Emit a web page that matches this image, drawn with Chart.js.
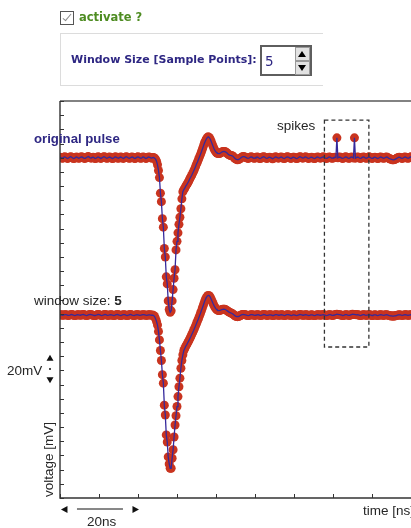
<!DOCTYPE html>
<html>
<head>
<meta charset="utf-8">
<script src="https://cdn.jsdelivr.net/npm/chart.js@4.4.1/dist/chart.umd.min.js"></script>
<style>
  html, body { margin: 0; padding: 0; background: #fff; width: 411px; height: 528px; overflow: hidden; }
  #wrap { position: relative; width: 411px; height: 528px; overflow: hidden; }
  #plot { position: absolute; left: 0; top: 0; }
  .lbl { position: absolute; white-space: nowrap; font-family: "Liberation Sans", Arial, Helvetica, sans-serif;
         font-size: 13.5px; line-height: 13.5px; color: #262626; }
  .navy { color: #2e2783; font-weight: bold; font-size: 13.2px; line-height: 13.2px; }
  .ui { position: absolute; white-space: nowrap; font-family: "DejaVu Sans", Verdana, sans-serif;
        font-weight: bold; font-size: 11px; line-height: 11px; }
  .chk { position: absolute; left: 60px; top: 11px; width: 12px; height: 12px; border: 1px solid #555; background: #fff; }
  .chk .mark { position: absolute; left: 4px; top: 0px; width: 3px; height: 8px;
               border-right: 1.6px solid #8a8a8a; border-bottom: 1.6px solid #8a8a8a; transform: rotate(40deg); }
  .panel { position: absolute; left: 60px; top: 33px; width: 262px; height: 51px;
           border-top: 1px solid #dcdcdc; border-left: 1px solid #dcdcdc; border-bottom: 1px solid #dcdcdc; }
  .spin { position: absolute; left: 260px; top: 45px; width: 52px; height: 31px; box-sizing: border-box;
          border: 2px solid #5e5e5e; background: #fff; }
  .spin .val { position: absolute; left: 3px; top: 8px; font-family: "DejaVu Sans", Verdana, sans-serif;
               font-size: 13.5px; line-height: 13.5px; color: #2e2783; }
  .spin .btn { position: absolute; left: 33px; width: 13px; height: 12px; background: #e2e2e2; border: 1px solid #9a9a9a; }
  .spin .up { top: 0px; }
  .spin .dn { top: 14px; }
  .spin .btn::after { content: ""; position: absolute; left: 2px; width: 0; height: 0;
                      border-left: 4.5px solid transparent; border-right: 4.5px solid transparent; }
  .spin .up::after { top: 3px; border-bottom: 6px solid #000; }
  .spin .dn::after { top: 3px; border-top: 6px solid #000; }
  .rot { transform-origin: 0 0; transform: rotate(-90deg); }
</style>
</head>
<body>
<div id="wrap">
  <canvas id="plot" width="425" height="528"></canvas>

  <div class="chk"><div class="mark"></div></div>
  <div class="ui" style="left:79px; top:12.3px; font-size:11.5px; line-height:11.5px; color:#4e8c22;">activate ?</div>
  <div class="panel"></div>
  <div class="ui" style="left:71px; top:54.2px; color:#2e2783;">Window Size [Sample Points]:</div>
  <div class="spin"><span class="val">5</span><div class="btn up"></div><div class="btn dn"></div></div>

  <div class="lbl navy" style="left:34px; top:131.8px;">original pulse</div>
  <div class="lbl" style="left:277px; top:119px;">spikes</div>
  <div class="lbl" style="left:34px; top:293.6px;">window size: <b>5</b></div>
  <div class="lbl" style="left:7px; top:363.6px;">20mV</div>
  <div class="lbl rot" style="left:41.9px; top:497px;">voltage [mV]</div>
  <div class="lbl" style="left:87px; top:515.3px;">20ns</div>
  <div class="lbl" style="left:363px; top:503.6px;">time [ns]</div>
</div>

<script>
// Sampling interval of the digitizer (ns); sample i is taken at i * SAMPLE_NS.
const SAMPLE_NS = 0.25;

// Raw detector pulse in mV (baseline = 0), including two single-sample spikes.
const originalPulse = [
  // 0 - 24.25 ns: baseline
  0.3,0.1,-0.4,-0.2,0.4,0.6,0.2,-0.3,-0.5,0.0,
  0.4,0.7,0.3,-0.2,-0.6,-0.3,0.2,0.5,0.1,-0.4,
  -0.2,0.3,0.6,0.4,-0.1,-0.5,-0.4,0.1,0.5,0.8,
  0.4,-0.1,-0.3,0.2,0.4,0.0,-0.6,-0.4,0.2,0.6,
  0.3,-0.2,-0.5,-0.1,0.3,0.7,0.5,0.0,-0.4,-0.2,
  0.3,0.5,0.1,-0.3,-0.6,-0.2,0.4,0.6,0.2,-0.2,
  -0.4,0.1,0.5,0.3,-0.2,-0.5,-0.1,0.4,0.7,0.3,
  -0.1,-0.4,-0.2,0.3,0.5,0.2,-0.3,-0.6,-0.1,0.4,
  0.6,0.2,-0.2,-0.4,0.0,0.5,0.4,-0.1,-0.5,-0.3,
  0.2,0.5,0.3,-0.1,-0.3,0.1,0.2,-0.3,
  // 24.5 - 47.5 ns: pulse, overshoot and ringing
  -1,-2.5,-5,-9,-14,-25,-31,-43,-49,-64,
  -70,-84,-89,-101,-107,-109,-108,-101,-93,-85,
  -79,-65,-59,-53,-47,-42,-36,-29,-24,-22.5,
  -21.5,-20,-19,-17.8,-16.6,-15,-13.8,-12.5,-11,-9.6,
  -8,-6.3,-4.5,-3,-1.2,0.5,2.2,4,6,8,
  10,11.6,13,14.2,14.7,14.3,13.2,11.6,9.8,8,
  6.3,5,4,3.3,3,2.9,3.1,3.5,4,4.3,
  4.4,4.3,4,3.5,2.8,2.2,1.8,1.6,1.5,1.2,
  0.6,-0.2,-0.8,-1.2,-1.4,-1.3,-0.9,-0.4,0.2,0.6,
  0.8,0.7,0.4,
  // 47.75 - 92 ns: baseline with the two spikes
  0.1,-0.3,-0.5,-0.2,0.3,0.6,0.4,-0.1,-0.4,-0.2,
  0.2,0.5,0.3,-0.2,-0.6,-0.4,0.1,0.5,0.7,0.3,
  -0.2,-0.5,-0.3,0.2,0.4,0.1,-0.3,-0.7,-0.4,0.2,
  0.6,0.4,0.0,-0.3,-0.1,0.3,0.5,0.2,-0.4,-0.6,
  -0.2,0.3,0.6,0.5,0.1,-0.3,-0.5,-0.1,0.4,0.3,
  -0.1,-0.4,-0.6,-0.2,0.3,0.7,0.5,0.0,-0.3,-0.1,
  0.4,0.6,0.2,-0.3,-0.5,-0.2,0.2,0.4,0.1,-0.4,
  -0.6,-0.3,0.2,0.5,0.3,-0.1,-0.3,0.0,0.4,0.6,
  0.3,-0.2,-0.5,-0.4,0.1,0.5,0.4,0.0,-0.4,-0.2,
  0.2,0.4,0.1,14.0,-0.1,0.3,0.5,0.1,-0.3,-0.5,
  -0.2,0.3,0.6,0.4,-0.1,-0.4,-0.3,0.2,0.5,0.2,
  -0.2,14.0,-0.3,0.1,0.5,0.3,-0.2,-0.5,-0.3,0.2,
  0.5,0.4,-0.1,-0.4,-0.2,0.3,0.6,0.3,-0.2,-0.5,
  -0.3,0.2,0.4,0.1,-0.3,-0.6,-0.2,0.3,0.5,0.2,
  -0.2,-0.4,-0.1,0.3,0.5,0.2,-0.3,-0.7,-0.9,-1.2,
  -1.4,-1.5,-1.3,-1.0,-0.6,-0.2,0.2,0.4,0.1,-0.3,
  -0.5,-0.2,0.3,0.5,0.2,-0.2,-0.4,-0.1,0.4,0.6,
  0.3,-0.1,-0.4,-0.2,0.2,0.5,0.3,-0.1
];

// Same pulse after the window filter (window size 5), in mV (baseline = 0).
const filteredPulse = [
  // 0 - 23.75 ns: baseline
  0.2,0.2,0.0,-0.1,0.1,0.3,0.3,0.1,-0.2,-0.2,
  0.0,0.3,0.4,0.2,-0.1,-0.3,-0.2,0.1,0.3,0.2,
  0.0,-0.1,0.1,0.3,0.4,0.2,-0.1,-0.3,-0.2,0.1,
  0.3,0.4,0.3,0.1,-0.1,-0.3,-0.3,-0.1,0.2,0.4,
  0.3,0.1,-0.2,-0.3,-0.1,0.2,0.4,0.3,0.0,-0.2,
  -0.1,0.1,0.3,0.2,-0.1,-0.3,-0.2,0.1,0.3,0.4,
  0.2,-0.1,-0.3,-0.2,0.1,0.3,0.3,0.1,-0.2,-0.3,
  -0.1,0.2,0.4,0.3,0.0,-0.2,-0.3,-0.1,0.2,0.3,
  0.2,0.0,-0.2,-0.1,0.1,0.3,0.3,0.1,-0.1,-0.2,
  0.0,0.2,0.2,0.0,-0.1,0.0,
  // 24 - 47.5 ns: pulse, overshoot and ringing
  -0.3,-1,-2.5,-4.5,-7,-11.5,-17.5,-25,-32,-42,
  -48,-63.5,-70.5,-84.5,-89.5,-100,-105,-108,-108,-101,
  -95,-86,-77.5,-71,-64.5,-57.5,-50.5,-44.5,-37.5,-32,
  -28,-25,-23.5,-22,-20.8,-19.5,-18.2,-16.8,-15.4,-13.9,
  -12.4,-10.9,-9.3,-7.6,-5.9,-4.2,-2.5,-0.7,1.1,3,
  5,7,9,10.8,12.3,13.4,13.9,13.7,12.8,11.4,
  9.8,8.2,6.7,5.4,4.4,3.7,3.3,3.2,3.3,3.6,
  3.9,4.1,4.2,4.1,3.8,3.3,2.8,2.3,1.9,1.6,
  1.3,0.9,0.4,-0.2,-0.7,-1.0,-1.1,-1.0,-0.7,-0.3,
  0.1,0.4,0.5,0.4,0.2,
  // 47.75 - 92 ns: baseline, spikes removed
  0.0,-0.2,-0.3,-0.2,0.1,0.3,0.3,0.1,-0.1,-0.2,
  0.0,0.2,0.3,0.1,-0.2,-0.3,-0.1,0.2,0.4,0.3,
  0.0,-0.2,-0.2,0.0,0.2,0.2,0.0,-0.3,-0.3,0.0,
  0.3,0.3,0.1,-0.1,-0.1,0.1,0.3,0.2,-0.1,-0.3,
  -0.2,0.1,0.3,0.3,0.1,-0.1,-0.3,-0.2,0.1,0.2,
  0.0,-0.2,-0.3,-0.1,0.2,0.4,0.3,0.1,-0.1,-0.1,
  0.1,0.3,0.2,-0.1,-0.3,-0.2,0.1,0.2,0.1,-0.2,
  -0.3,-0.2,0.1,0.3,0.2,0.0,-0.1,0.0,0.2,0.3,
  0.2,-0.1,-0.3,-0.2,0.0,0.3,0.3,0.1,-0.2,-0.2,
  0.0,0.2,0.4,0.6,0.5,0.3,0.3,0.1,-0.1,-0.3,
  -0.2,0.1,0.3,0.3,0.0,-0.2,-0.2,0.1,0.4,0.6,
  0.5,0.5,0.4,0.2,0.3,0.2,-0.1,-0.3,-0.2,0.1,
  0.3,0.3,0.0,-0.2,-0.1,0.2,0.3,0.2,-0.1,-0.3,
  -0.2,0.1,0.2,0.1,-0.2,-0.3,-0.1,0.2,0.3,0.1,
  -0.1,-0.2,0.0,0.2,0.3,0.1,-0.2,-0.4,-0.5,-0.6,
  -0.7,-0.7,-0.6,-0.5,-0.3,-0.1,0.1,0.2,0.1,-0.1,
  -0.2,-0.1,0.1,0.3,0.2,0.0,-0.2,-0.1,0.2,0.3,
  0.2,0.0,-0.2,-0.1,0.1,0.3,0.2,0.0
];

// Vertical display offsets of the two stacked traces (mV).
const ORIGINAL_OFFSET = 0;
const FILTERED_OFFSET = -111;

// Axis ranges and tick steps.
const TIME_RANGE = [0, 92];      // ns
const TIME_STEP = 10;            // ns
const VOLT_RANGE = [-240, 40];   // mV
const VOLT_STEP = 10;            // mV

// Scale bars and the dashed window around the spikes (data units).
const TIME_BAR = { start: 0.25, length: 20 };          // 20 ns
const VOLT_BAR = { center: -149, length: 20 };         // 20 mV
const SPIKE_WINDOW = { t0: 67.8, t1: 79.2, vTop: 26.5, vBottom: -133.5 };

const DOT_COLOR = '#c9341f';
const LINE_COLOR = '#35299c';

const timeNs = originalPulse.map((_, i) => i * SAMPLE_NS);
const toPoints = (vals, off) => vals.map((v, i) => ({ x: timeNs[i], y: v + off }));

const origPts = toPoints(originalPulse, ORIGINAL_OFFSET);
const filtPts = toPoints(filteredPulse, FILTERED_OFFSET);

const lineSet = (pts) => ({
  data: pts, showLine: true, pointRadius: 0, borderColor: LINE_COLOR,
  borderWidth: 1.3, tension: 0, order: 0, clip: 0
});
const dotSet = (pts) => ({
  data: pts, showLine: false, pointRadius: 4.5, pointBackgroundColor: DOT_COLOR,
  pointBorderWidth: 0, order: 1, clip: 0
});

// Frame, inward tick marks, scale bars and the spike window.
const decorations = {
  id: 'decorations',
  afterDraw(chart) {
    const { ctx, chartArea: a, scales: { x, y } } = chart;
    ctx.save();

    // frame
    ctx.strokeStyle = '#5a5a5a';
    ctx.lineWidth = 1.6;
    ctx.beginPath();
    ctx.moveTo(a.left, a.top); ctx.lineTo(a.right, a.top);
    ctx.moveTo(a.right, a.top); ctx.lineTo(a.right, a.bottom);
    ctx.stroke();
    ctx.strokeStyle = '#333';
    ctx.lineWidth = 1.4;
    ctx.beginPath();
    ctx.moveTo(a.left, a.top); ctx.lineTo(a.left, a.bottom); ctx.lineTo(a.right, a.bottom);
    ctx.stroke();

    // ticks pointing into the plot
    ctx.lineWidth = 1;
    ctx.strokeStyle = '#333';
    ctx.beginPath();
    y.ticks.forEach(t => {
      const py = Math.round(y.getPixelForValue(t.value)) + 0.5;
      ctx.moveTo(a.left, py); ctx.lineTo(a.left + 4, py);
    });
    x.ticks.forEach(t => {
      const px = Math.round(x.getPixelForValue(t.value)) + 0.5;
      ctx.moveTo(px, a.bottom); ctx.lineTo(px, a.bottom - 4);
    });
    ctx.stroke();

    // dashed window around the spikes
    ctx.setLineDash([4, 3]);
    ctx.strokeStyle = '#333';
    ctx.lineWidth = 1.3;
    const wx0 = x.getPixelForValue(SPIKE_WINDOW.t0), wx1 = x.getPixelForValue(SPIKE_WINDOW.t1);
    const wy0 = y.getPixelForValue(SPIKE_WINDOW.vTop), wy1 = y.getPixelForValue(SPIKE_WINDOW.vBottom);
    ctx.strokeRect(wx0, wy0, wx1 - wx0, wy1 - wy0);
    ctx.setLineDash([]);

    ctx.fillStyle = '#111';
    ctx.strokeStyle = '#111';

    // 20 ns scale bar below the time axis
    const bx0 = x.getPixelForValue(TIME_BAR.start);
    const bx1 = x.getPixelForValue(TIME_BAR.start + TIME_BAR.length);
    const by = a.bottom + 11.5;
    ctx.beginPath();
    ctx.moveTo(bx0, by); ctx.lineTo(bx0 + 6.5, by - 3.5); ctx.lineTo(bx0 + 6.5, by + 3.5); ctx.closePath();
    ctx.moveTo(bx1, by); ctx.lineTo(bx1 - 6.5, by - 3.5); ctx.lineTo(bx1 - 6.5, by + 3.5); ctx.closePath();
    ctx.fill();
    ctx.lineWidth = 1;
    ctx.beginPath();
    ctx.moveTo(bx0 + 16, by - 0.5); ctx.lineTo(bx1 - 16, by - 0.5);
    ctx.stroke();

    // 20 mV scale bar left of the voltage axis
    const vx = a.left - 10;
    const vy0 = y.getPixelForValue(VOLT_BAR.center + VOLT_BAR.length / 2);
    const vy1 = y.getPixelForValue(VOLT_BAR.center - VOLT_BAR.length / 2);
    ctx.beginPath();
    ctx.moveTo(vx, vy0); ctx.lineTo(vx - 3.5, vy0 + 6); ctx.lineTo(vx + 3.5, vy0 + 6); ctx.closePath();
    ctx.moveTo(vx, vy1); ctx.lineTo(vx - 3.5, vy1 - 6); ctx.lineTo(vx + 3.5, vy1 - 6); ctx.closePath();
    ctx.fill();
    const vm = y.getPixelForValue(VOLT_BAR.center);
    ctx.fillRect(vx - 0.75, vm - 1, 1.5, 2);

    ctx.restore();
  }
};

new Chart(document.getElementById('plot'), {
  type: 'scatter',
  data: {
    datasets: [lineSet(origPts), lineSet(filtPts), dotSet(origPts), dotSet(filtPts)]
  },
  options: {
    responsive: false,
    animation: false,
    devicePixelRatio: 1,
    events: [],
    layout: { padding: { top: 101, left: 0, right: 6.2, bottom: 0 } },
    plugins: { legend: { display: false }, tooltip: { enabled: false } },
    scales: {
      x: {
        type: 'linear', min: TIME_RANGE[0], max: TIME_RANGE[1],
        ticks: { display: false, stepSize: TIME_STEP },
        grid: { display: false }, border: { display: false },
        afterFit: (s) => { s.height = 30; }
      },
      y: {
        type: 'linear', min: VOLT_RANGE[0], max: VOLT_RANGE[1],
        ticks: { display: false, stepSize: VOLT_STEP },
        grid: { display: false }, border: { display: false },
        afterFit: (s) => { s.width = 60; }
      }
    }
  },
  plugins: [decorations]
});
</script>
</body>
</html>
